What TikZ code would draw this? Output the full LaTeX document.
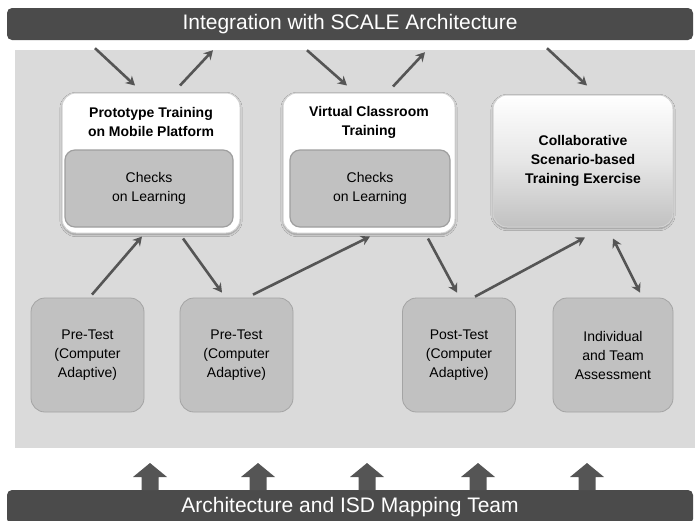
\documentclass[tikz,border=0pt]{standalone}
\usepackage{fontspec}
\setmainfont{Liberation Sans}
\usetikzlibrary{calc,shadows.blur,arrows.meta}
\definecolor{barfill}{HTML}{4B4B4B}
\definecolor{panelfill}{HTML}{DADADA}
\definecolor{boxgray}{HTML}{C1C1C1}
\definecolor{arrowgray}{HTML}{555555}
\begin{document}
\begin{tikzpicture}[x=1pt,y=-1pt,
  bar/.style={fill=barfill, rounded corners=5pt, text=white, inner sep=0pt,
    font=\fontsize{21}{24}\selectfont},
  outerbox/.style={fill=white, draw=gray!35, line width=1pt, rounded corners=14pt,
    blur shadow={shadow xshift=0pt, shadow yshift=-1.5pt, shadow blur steps=6, shadow opacity=35}},
  innerbox/.style={fill=boxgray, draw=gray!75, line width=1.2pt, rounded corners=10pt,
    align=center, font=\fontsize{14}{19}\selectfont},
  titletext/.style={align=center, font=\bfseries\fontsize{14}{19}\selectfont},
  testbox/.style={fill=boxgray, draw=boxgray!85!black, line width=0.8pt, rounded corners=14pt,
    minimum width=113pt, minimum height=114pt, align=center,
    font=\fontsize{14}{19}\selectfont},
  conn/.style={draw=arrowgray, line width=2.6pt, -{Stealth[length=9pt,width=10pt]}},
  twoway/.style={draw=arrowgray, line width=2.6pt, {Stealth[length=9pt,width=10pt]}-{Stealth[length=9pt,width=10pt]}},
  uparrow/.style={fill=arrowgray}
]
\useasboundingbox (0,0) rectangle (695,520);

% shaded work area behind the boxes
\fill[panelfill] (15,50) rectangle (695,448);

% top and bottom banners
\node[bar, minimum width=686pt, minimum height=32pt] (topbar) at (350,24)
  {Integration with SCALE Architecture};
\node[bar, minimum width=686pt, minimum height=34pt] (botbar) at (350,507)
  {Architecture and ISD Mapping Team};

% training blocks
\node[outerbox, minimum width=178pt, minimum height=140pt] (proto) at (151,163) {};
\node[titletext] (protoT) at (151,122) {Prototype Training\\on Mobile Platform};
\node[innerbox, minimum width=168pt, minimum height=77pt] (chk1) at (149,188.5)
  {Checks\\on Learning};

\node[outerbox, minimum width=172pt, minimum height=140pt] (virt) at (369,163) {};
\node[titletext] (virtT) at (369,122) {Virtual Classroom\\Training};
\node[innerbox, minimum width=160pt, minimum height=77pt] (chk2) at (370,188.5)
  {Checks\\on Learning};

\node[outerbox, top color=white, bottom color=boxgray, middle color=white!60!boxgray,
  minimum width=180pt, minimum height=132pt, titletext] (collab) at (583,161)
  {Collaborative\\Scenario-based\\Training Exercise};

% assessment blocks
\node[testbox] (pre1) at (87.5,355) {Pre-Test\\(Computer\\Adaptive)};
\node[testbox] (pre2) at (236.5,355) {Pre-Test\\(Computer\\Adaptive)};
\node[testbox] (post) at (459,355) {Post-Test\\(Computer\\Adaptive)};
\node[testbox, minimum width=120pt] (indiv) at (613,355) {Individual\\and Team\\Assessment};

% links to and from the integration banner
\draw[conn] ($(proto.north |- topbar.south)+(-56,8)$) -- ($(proto.north)+(-16,-7)$);
\draw[conn] ($(proto.north)+(29,-7)$) -- ($(proto.north |- topbar.south)+(62,10)$);
\draw[conn] ($(virt.north |- topbar.south)+(-62,10)$) -- ($(virt.north)+(-22,-7)$);
\draw[conn] ($(virt.north)+(24,-6)$) -- ($(virt.north |- topbar.south)+(56,12)$);
\draw[conn] ($(collab.north |- topbar.south)+(-36,8)$) -- ($(collab.north)+(4,-9)$);

% links between assessments and training
\draw[conn] ($(pre1.north)+(4.5,-3)$) -- ($(proto.south)+(-9,3)$);
\draw[conn] ($(proto.south)+(32,5)$) -- ($(pre2.north)+(-14.5,-5)$);
\draw[conn] ($(pre2.north)+(16.5,-3)$) -- ($(virt.south)+(1,3)$);
\draw[conn] ($(virt.south)+(59,5)$) -- ($(post.north)+(-2,-5)$);
\draw[conn] ($(post.north)+(16,-1)$) -- ($(collab.south)+(2,10)$);
\draw[twoway] ($(collab.south)+(30,11)$) -- ($(indiv.north)+(27,-5)$);

% block arrows rising from the mapping team banner
\foreach \ax in {150,258,367,478,587}{
  \fill[uparrow] (\ax-8.5,490) -- (\ax-8.5,477) -- (\ax-17,477) -- (\ax,463)
    -- (\ax+17,477) -- (\ax+8.5,477) -- (\ax+8.5,490) -- cycle;
}
\end{tikzpicture}
\end{document}
